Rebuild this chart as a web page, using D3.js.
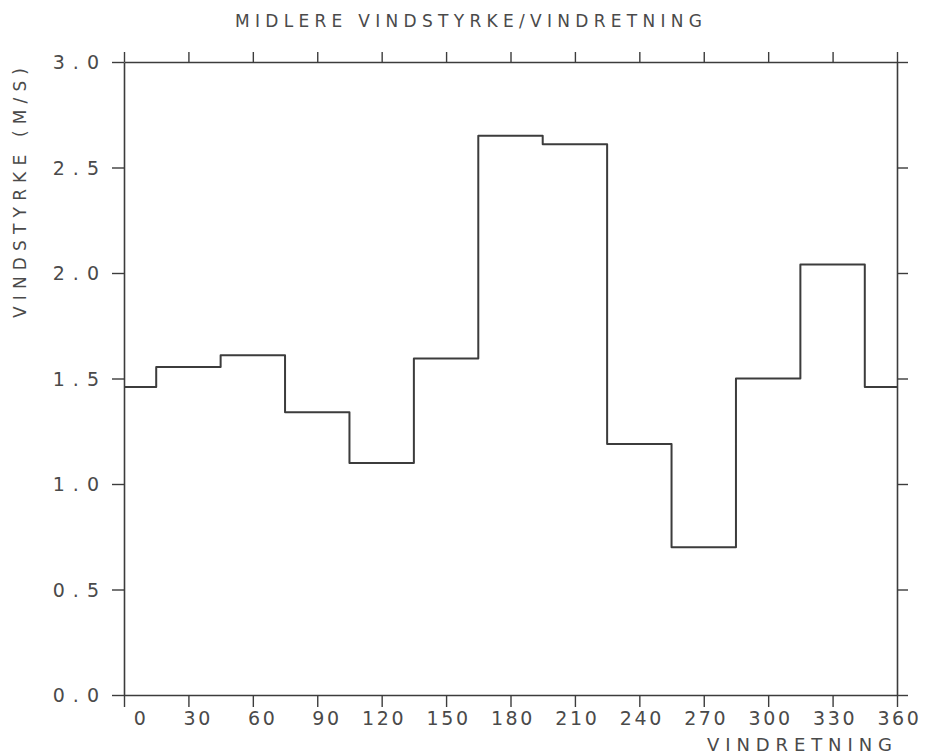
<!DOCTYPE html>
<html>
<head>
<meta charset="utf-8">
<script src="https://cdn.jsdelivr.net/npm/d3@7/dist/d3.min.js"></script>
<style>
  html, body { margin: 0; padding: 0; background: #fff; }
  svg { display: block; }
  text { font-family: "DejaVu Sans", sans-serif; fill: #4a4a4a; }
</style>
</head>
<body>
<svg id="chart" width="925" height="755"></svg>
<script>
// ---- data ----
const title = "MIDLERE VINDSTYRKE/VINDRETNING";
const xTitle = "VINDRETNING";
const yTitle = "VINDSTYRKE (M/S)";
// sector edges (degrees) of the step line
const sectorEdges = [0, 15, 45, 75, 105, 135, 165, 195, 225, 255, 285, 315, 345, 360];
// mean wind speed (m/s) in each segment between the edges above
const meanSpeed = [1.46, 1.555, 1.61, 1.34, 1.10, 1.595, 2.65, 2.61, 1.19, 0.70, 1.50, 2.04, 1.46];
const xTickValues = [0, 30, 60, 90, 120, 150, 180, 210, 240, 270, 300, 330, 360];
const xTickLabels = ["0", "30", "60", "90", "120", "150", "180", "210", "240", "270", "300", "330", "360"];
const yTickValues = [0, 0.5, 1.0, 1.5, 2.0, 2.5, 3.0];
const yTickLabels = ["0.0", "0.5", "1.0", "1.5", "2.0", "2.5", "3.0"];

// ---- layout ----
const L = 124, R = 897, T = 62, B = 695;
const ink = "#3c3c3c";
const svg = d3.select("#chart");

const x = d3.scaleLinear().domain([0, 360]).range([L, R]);
const y = d3.scaleLinear().domain([0, 3]).range([B, T]);

function styleAxis(g) {
  g.selectAll("path.domain").attr("stroke", ink).attr("stroke-width", 1.6);
  g.selectAll(".tick line").attr("stroke", ink).attr("stroke-width", 1.4);
}

// bottom axis with labels
const gB = svg.append("g").attr("transform", `translate(0,${B})`)
  .call(d3.axisBottom(x).tickValues(xTickValues).tickSize(12).tickSizeOuter(0)
    .tickFormat((d, i) => xTickLabels[i]));
styleAxis(gB);
gB.selectAll(".tick text")
  .attr("y", 30).attr("dy", 0)
  .attr("x", 24)
  .attr("text-anchor", "end")
  .attr("font-size", 19)
  .attr("letter-spacing", 2.6)
  .attr("fill", "#4a4a4a");

// top axis
const gT = svg.append("g").attr("transform", `translate(0,${T})`)
  .call(d3.axisTop(x).tickValues(xTickValues).tickSize(10).tickSizeOuter(0).tickFormat(""));
styleAxis(gT);

// left axis with labels
const gL = svg.append("g").attr("transform", `translate(${L},0)`)
  .call(d3.axisLeft(y).tickValues(yTickValues).tickSize(12).tickSizeOuter(0)
    .tickFormat((d, i) => yTickLabels[i]));
styleAxis(gL);
gL.selectAll(".tick text")
  .attr("x", -17).attr("dy", "0.36em")
  .attr("text-anchor", "end")
  .attr("font-size", 19)
  .attr("letter-spacing", 8)
  .attr("fill", "#4a4a4a");

// right axis
const gR = svg.append("g").attr("transform", `translate(${R},0)`)
  .call(d3.axisRight(y).tickValues(yTickValues).tickSize(11).tickSizeOuter(0).tickFormat(""));
styleAxis(gR);

// step line
const pts = sectorEdges.slice(0, -1).map((e, i) => [e, meanSpeed[i]]);
pts.push([sectorEdges[sectorEdges.length - 1], meanSpeed[meanSpeed.length - 1]]);
const line = d3.line().x(d => x(d[0])).y(d => y(d[1])).curve(d3.curveStepAfter);
svg.append("path").datum(pts)
  .attr("d", line)
  .attr("fill", "none")
  .attr("stroke", ink)
  .attr("stroke-width", 2)
  .attr("stroke-linejoin", "round");

// titles
svg.append("text")
  .attr("x", 235).attr("y", 27)
  .attr("font-size", 17)
  .attr("textLength", 467).attr("lengthAdjust", "spacing")
  .text(title);

svg.append("text")
  .attr("x", 707).attr("y", 751)
  .attr("font-size", 18)
  .attr("textLength", 185).attr("lengthAdjust", "spacing")
  .text(xTitle);

svg.append("text")
  .attr("transform", "translate(26,318) rotate(-90)")
  .attr("x", 0).attr("y", 0)
  .attr("font-size", 17)
  .attr("textLength", 250).attr("lengthAdjust", "spacing")
  .text(yTitle);
</script>
</body>
</html>
